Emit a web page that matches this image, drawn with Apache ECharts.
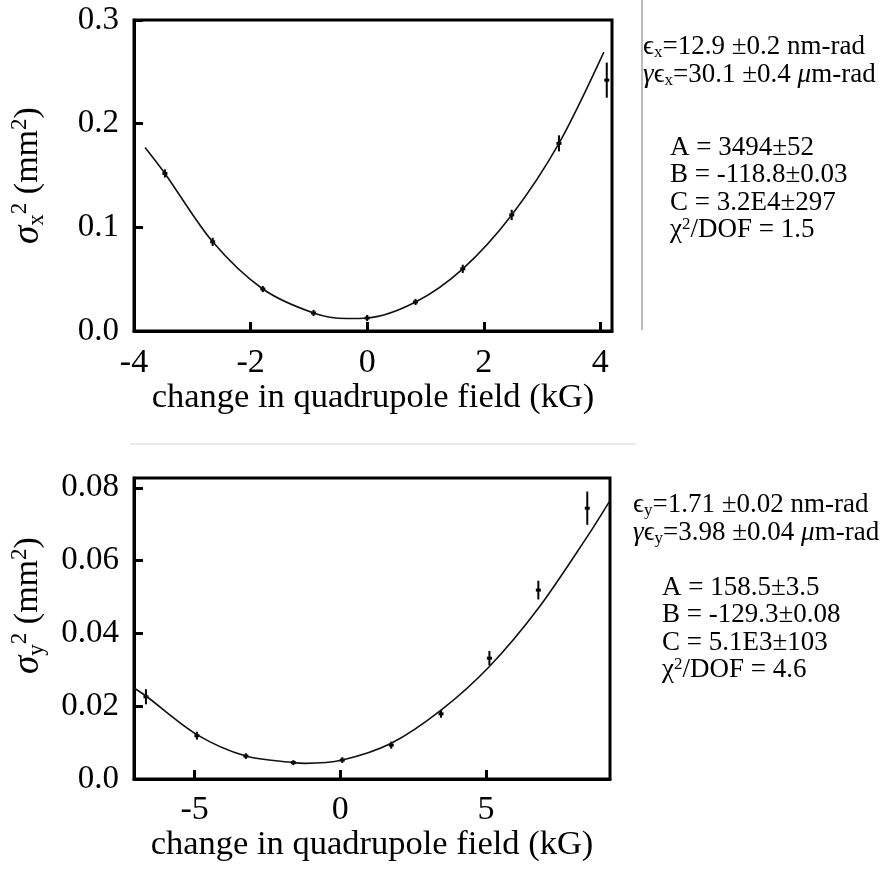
<!DOCTYPE html>
<html>
<head>
<meta charset="utf-8">
<title>Quadrupole scan</title>
<style>
  html, body { margin: 0; background: #fff; }
  #chart { width: 896px; height: 872px; }
</style>
</head>
<body>
<div id="chart"></div>
<script src="https://cdn.jsdelivr.net/npm/echarts@6.0.0/dist/echarts.min.js"></script>
<script>
// ---- horizontal scan (top) ----
const xScanField = [-3.47, -2.65, -1.79, -0.92, 0.0, 0.83, 1.64, 2.48, 3.29, 4.11];
const xScanSigma2 = [0.152, 0.086, 0.0405, 0.0174, 0.0125, 0.028, 0.060, 0.112, 0.181, 0.242];
const xScanErr = [0.003, 0.003, 0.002, 0.002, 0.002, 0.002, 0.003, 0.004, 0.0068, 0.016];
// fit curve
const xFitField = [-3.81, -3.47, -2.65, -1.79, -0.92, -0.35, 0.0, 0.83, 1.64, 2.48, 3.29, 4.06];
const xFitSigma2 = [0.177, 0.152, 0.086, 0.0405, 0.0174, 0.012, 0.0125, 0.028, 0.060, 0.112, 0.181, 0.269];
const xTicksTop = [-4, -2, 0, 2, 4];

// ---- vertical scan (bottom) ----
const yScanField = [-6.67, -4.92, -3.24, -1.61, 0.07, 1.75, 3.46, 5.12, 6.8, 8.48];
const yScanSigma2 = [0.0226, 0.0119, 0.0063, 0.0045, 0.0052, 0.0093, 0.0179, 0.0332, 0.0519, 0.0744];
const yScanErr = [0.0018, 0.0008, 0.0005, 0.0004, 0.0005, 0.0007, 0.0008, 0.0017, 0.0023, 0.0043];
const yFitField = [-7.08, -6.67, -4.92, -3.24, -1.61, -1.2, 0.07, 1.75, 3.46, 5.12, 6.8, 8.48, 9.26];
const yFitSigma2 = [0.025, 0.0228, 0.0122, 0.0063, 0.0045, 0.0043, 0.0052, 0.0098, 0.0189, 0.0309, 0.0469, 0.0666, 0.0765];
const xTicksBottom = [-5, 0, 5];
const yTicksBottom = [0, 0.02, 0.04, 0.06, 0.08];

// fit results printed beside each plot
const topNotes = ['{t|ϵ}{sb|x}{t|=12.9 ±0.2 nm-rad}', '{i|γ}{t|ϵ}{sb|x}{t|=30.1 ±0.4 }{i|μ}{t|m-rad}'];
const topFit = ['{t|A = 3494±52}', '{t|B = -118.8±0.03}', '{t|C = 3.2E4±297}', '{t|χ}{sp|2}{t|/DOF = 1.5}'];
const bottomNotes = ['{t|ϵ}{sb|y}{t|=1.71 ±0.02 nm-rad}', '{i|γ}{t|ϵ}{sb|y}{t|=3.98 ±0.04 }{i|μ}{t|m-rad}'];
const bottomFit = ['{t|A = 158.5±3.5}', '{t|B = -129.3±0.08}', '{t|C = 5.1E3±103}', '{t|χ}{sp|2}{t|/DOF = 4.6}'];

const SERIF = '"Liberation Serif", "DejaVu Serif", serif';

const pairs = (xs, ys) => xs.map((x, i) => [x, ys[i]]);
const triples = (xs, ys, es) => xs.map((x, i) => [x, ys[i], es[i]]);

function renderErr(params, api) {
  const x = api.value(0), y = api.value(1), e = api.value(2);
  const lo = api.coord([x, y - e]);
  const hi = api.coord([x, y + e]);
  const c = api.coord([x, y]);
  return {
    type: 'group',
    children: [
      { type: 'line', shape: { x1: lo[0], y1: lo[1] + 1, x2: hi[0], y2: hi[1] - 1 }, style: { stroke: '#000', lineWidth: 2 } },
      { type: 'rect', shape: { x: c[0] - 2.5, y: c[1] - 1.5, width: 5, height: 3 }, style: { fill: '#000' } }
    ]
  };
}

const nameRich = {
  s: { fontFamily: SERIF, fontStyle: 'italic', fontSize: 37, lineHeight: 40, color: '#000' },
  sb: { fontFamily: SERIF, fontSize: 23, lineHeight: 22, verticalAlign: 'bottom', color: '#000' },
  sp: { fontFamily: SERIF, fontSize: 23, lineHeight: 22, verticalAlign: 'top', color: '#000' },
  t: { fontFamily: SERIF, fontSize: 34, lineHeight: 40, color: '#000' }
};

const noteRich = {
  t: { fontFamily: SERIF, fontSize: 27, lineHeight: 28, color: '#000' },
  i: { fontFamily: SERIF, fontStyle: 'italic', fontSize: 27, lineHeight: 28, color: '#000' },
  sb: { fontFamily: SERIF, fontSize: 17, lineHeight: 18, verticalAlign: 'bottom', color: '#000' },
  sp: { fontFamily: SERIF, fontSize: 17, lineHeight: 18, verticalAlign: 'top', color: '#000' }
};

function noteTexts(lines, x, y0, step) {
  return lines.map((txt, i) => ({
    type: 'text',
    x: x,
    y: y0 + i * step,
    style: { text: txt, rich: noteRich, verticalAlign: 'middle', align: 'left' }
  }));
}

const tickStyle = { show: true, inside: true, length: 9, lineStyle: { color: '#000', width: 3 } };
const lineStyle = { show: true, onZero: false, lineStyle: { color: '#000', width: 3 } };
const labelBase = { color: '#000', fontFamily: SERIF, fontSize: 34 };
const xName = 'change in quadrupole field (kG)';
const xNameStyle = { color: '#000', fontFamily: SERIF, fontSize: 34.5 };

const chart = echarts.init(document.getElementById('chart'));

const option = {
  backgroundColor: '#fff',
  animation: false,
  grid: [
    { left: 132, top: 20, width: 480, height: 311, show: true, borderColor: '#000', borderWidth: 3 },
    { left: 133, top: 478, width: 477, height: 301, show: true, borderColor: '#000', borderWidth: 3 }
  ],
  xAxis: [
    {
      gridIndex: 0, type: 'value', min: -4, max: 4.2,
      axisLine: lineStyle,
      axisTick: Object.assign({}, tickStyle, { customValues: xTicksTop }),
      axisLabel: Object.assign({}, labelBase, { customValues: xTicksTop, margin: 15 }),
      splitLine: { show: false },
      name: xName, nameLocation: 'middle', nameGap: 43, nameTextStyle: xNameStyle
    },
    {
      gridIndex: 1, type: 'value', min: -7.08, max: 9.26,
      axisLine: lineStyle,
      axisTick: Object.assign({}, tickStyle, { customValues: xTicksBottom }),
      axisLabel: Object.assign({}, labelBase, { customValues: xTicksBottom, margin: 14 }),
      splitLine: { show: false },
      name: xName, nameLocation: 'middle', nameGap: 41, nameTextStyle: xNameStyle
    }
  ],
  yAxis: [
    {
      gridIndex: 0, type: 'value', min: 0, max: 0.3, interval: 0.1,
      axisLine: lineStyle,
      axisTick: tickStyle,
      axisLabel: Object.assign({}, labelBase, { fontSize: 33, margin: 15, formatter: v => v.toFixed(1) }),
      splitLine: { show: false },
      name: '{s|σ}{sb|x}{sp|2}{t| (mm}{sp|2}{t|)}',
      nameLocation: 'middle', nameGap: 86, nameRotate: 90,
      nameTextStyle: { rich: nameRich }
    },
    {
      gridIndex: 1, type: 'value', min: 0, max: 0.0827,
      axisLine: lineStyle,
      axisTick: Object.assign({}, tickStyle, { customValues: yTicksBottom }),
      axisLabel: Object.assign({}, labelBase, {
        fontSize: 33, margin: 15, customValues: yTicksBottom,
        formatter: v => (v === 0 ? '0.0' : v.toFixed(2))
      }),
      splitLine: { show: false },
      name: '{s|σ}{sb|y}{sp|2}{t| (mm}{sp|2}{t|)}',
      nameLocation: 'middle', nameGap: 86, nameRotate: 90,
      nameTextStyle: { rich: nameRich, padding: [0, 0, 0, 46] }
    }
  ],
  series: [
    {
      type: 'line', xAxisIndex: 0, yAxisIndex: 0,
      data: pairs(xFitField, xFitSigma2),
      smooth: 0.3, showSymbol: false, symbol: 'none',
      lineStyle: { color: '#111', width: 1.6 }
    },
    {
      type: 'custom', xAxisIndex: 0, yAxisIndex: 0,
      data: triples(xScanField, xScanSigma2, xScanErr),
      renderItem: renderErr
    },
    {
      type: 'line', xAxisIndex: 1, yAxisIndex: 1,
      data: pairs(yFitField, yFitSigma2),
      smooth: 0.3, showSymbol: false, symbol: 'none',
      lineStyle: { color: '#111', width: 1.6 }
    },
    {
      type: 'custom', xAxisIndex: 1, yAxisIndex: 1,
      data: triples(yScanField, yScanSigma2, yScanErr),
      renderItem: renderErr
    }
  ],
  graphic: [
    // separators from the original figure
    { type: 'line', shape: { x1: 642, y1: 0, x2: 642, y2: 330 }, style: { stroke: '#777', lineWidth: 1 } },
    { type: 'line', shape: { x1: 130, y1: 444, x2: 636, y2: 444 }, style: { stroke: '#d4d4dc', lineWidth: 1 } }
  ]
    .concat(noteTexts(topNotes, 643, 47, 28))
    .concat(noteTexts(topFit, 670, 148, 27.3))
    .concat(noteTexts(bottomNotes, 633, 505, 28))
    .concat(noteTexts(bottomFit, 662, 588, 27.3))
};

chart.setOption(option);
</script>
</body>
</html>
